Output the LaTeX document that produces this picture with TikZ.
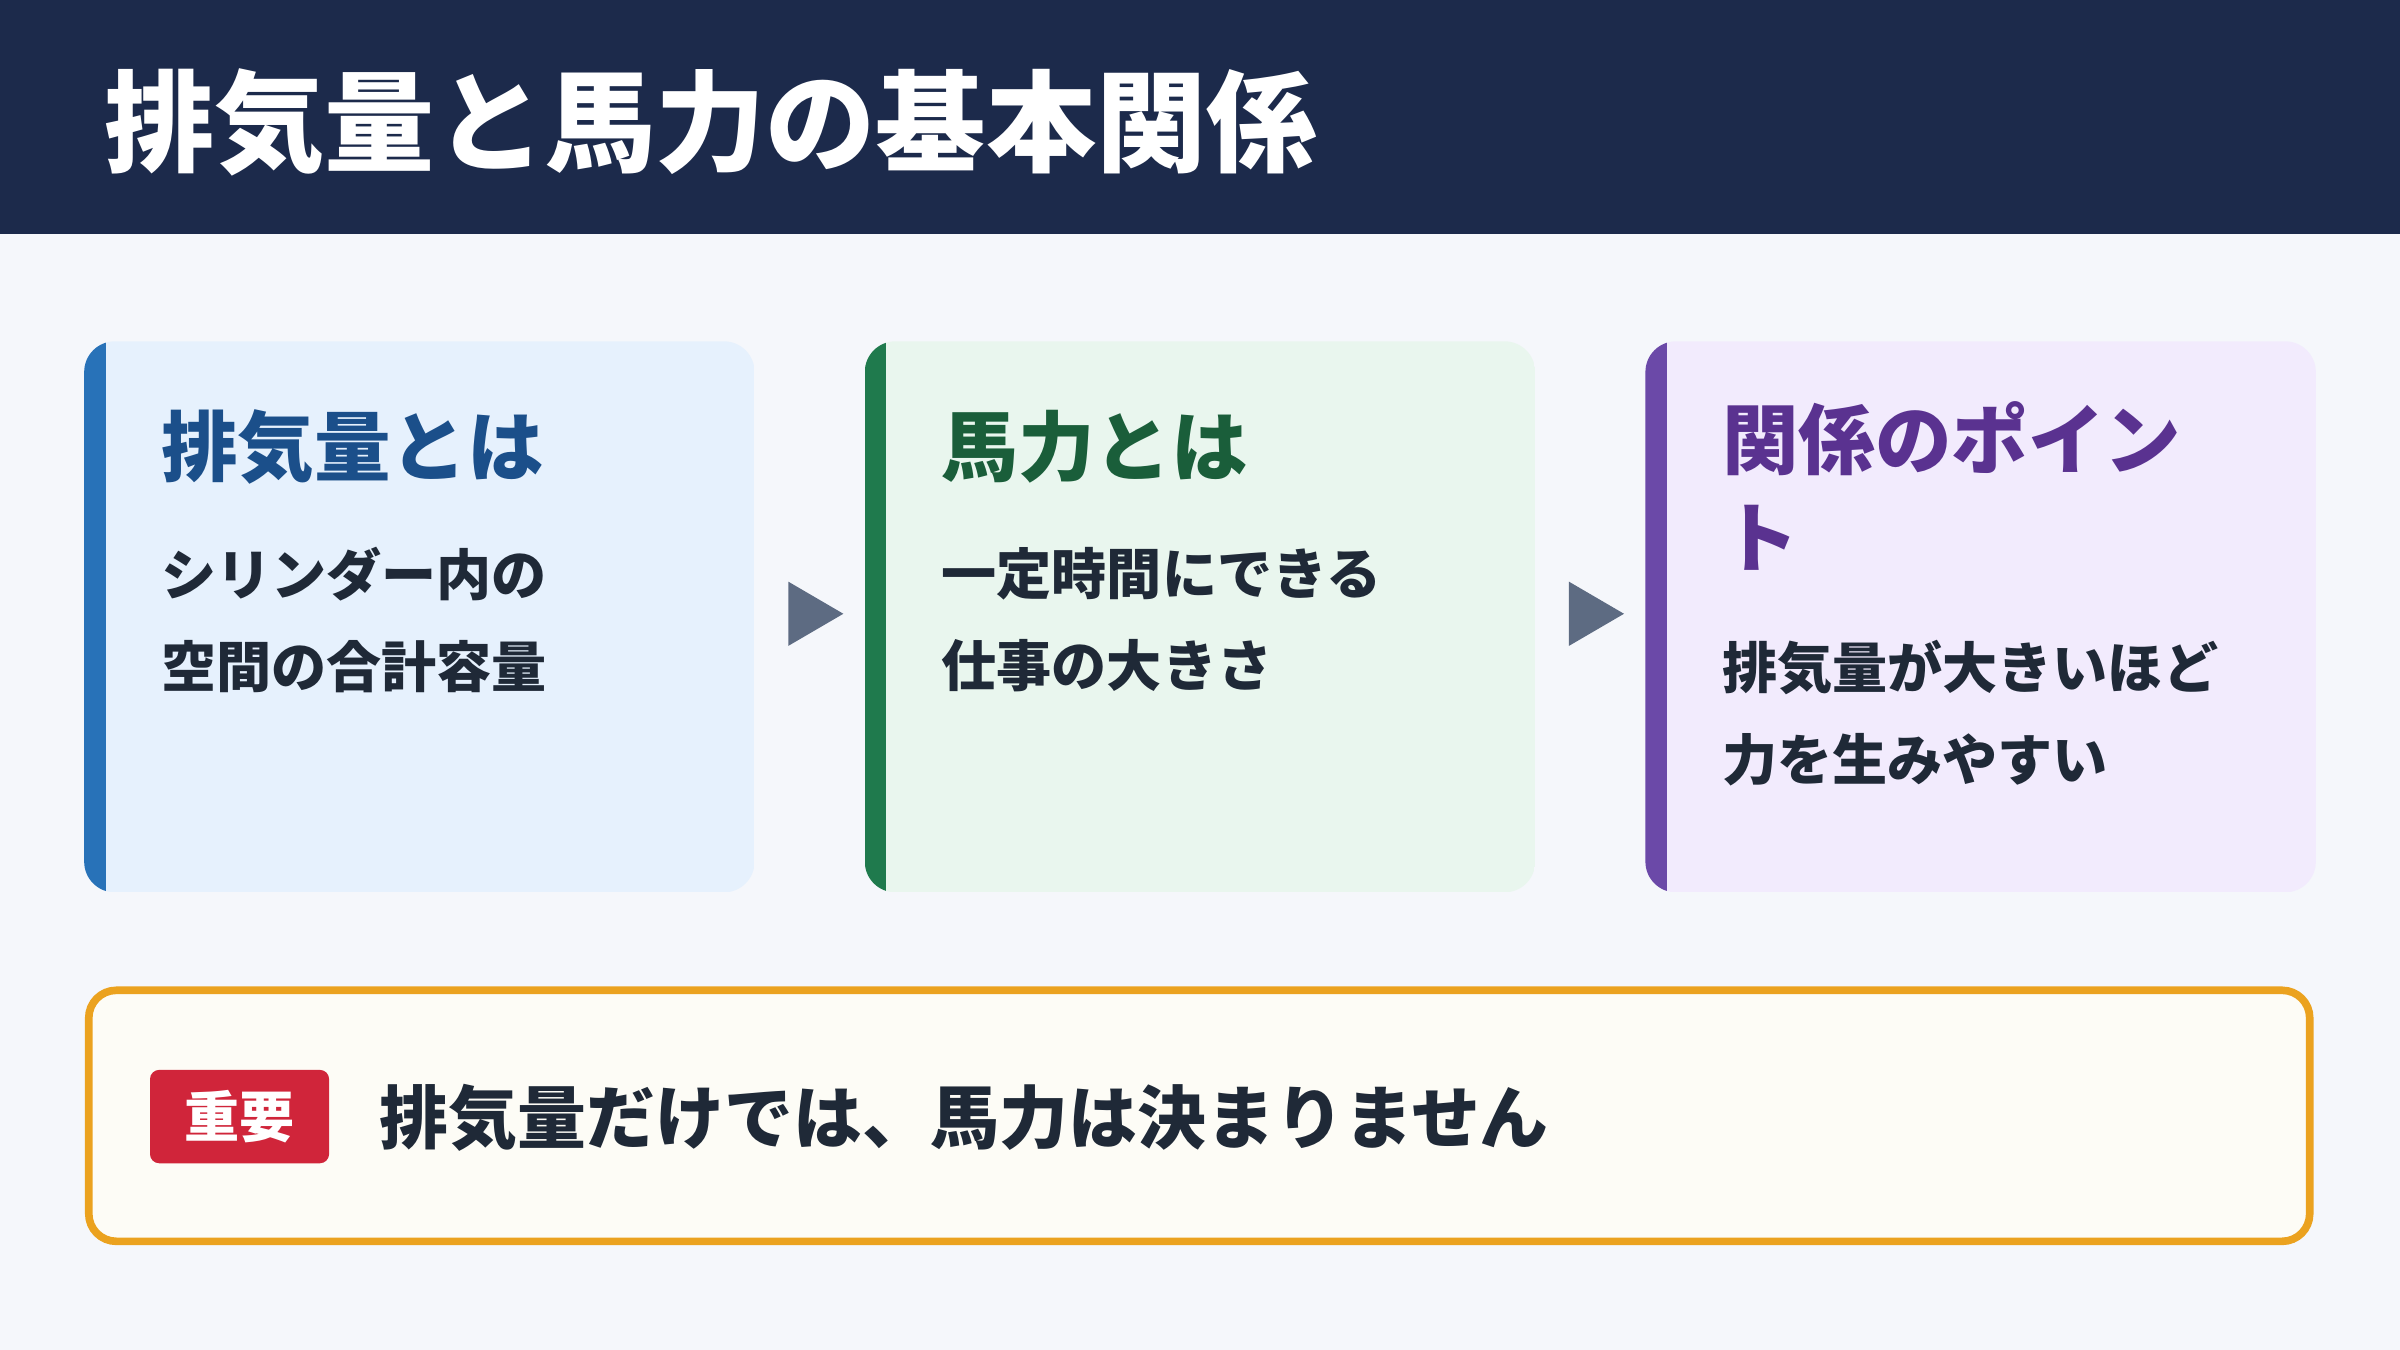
\documentclass[tikz,border=0pt]{standalone}
\usepackage{fontspec}
\setmainfont{Noto Sans CJK JP}
\definecolor{navy}{HTML}{1C2A4B}
\definecolor{bg}{HTML}{F5F7FB}
\definecolor{fa}{HTML}{E6F1FD}\definecolor{ba}{HTML}{2872B8}\definecolor{ta}{HTML}{1B4F8A}
\definecolor{fb}{HTML}{E9F6EE}\definecolor{bb}{HTML}{1F7A4D}\definecolor{tb}{HTML}{1A5E3A}
\definecolor{fc}{HTML}{F2EBFD}\definecolor{bc}{HTML}{6B49A8}\definecolor{tc}{HTML}{5A3290}
\definecolor{txt}{HTML}{1F2937}\definecolor{arr}{HTML}{5D6B82}
\definecolor{org}{HTML}{EBA21F}\definecolor{fo}{HTML}{FDFCF6}\definecolor{red}{HTML}{D0253A}
\begin{document}
\begin{tikzpicture}[x=1pt,y=-1pt,
 ttl/.style={anchor=west,font=\fontsize{50}{64}\selectfont\bfseries,align=left,inner sep=0},
 body/.style={anchor=west,font=\fontsize{36}{60}\selectfont\bfseries,text=txt,align=left,inner sep=0},
 tri/.style={fill=arr}]
\fill[bg] (0,0) rectangle (1568,882);
\fill[navy] (0,0) rectangle (1568,153);
\node[anchor=west,text=white,font=\fontsize{72}{80}\selectfont\bfseries,inner sep=0] (title) at (68,80) {排気量と馬力の基本関係};
% cards
\foreach \x/\f/\b in {55/fa/ba,565/fb/bb,1075/fc/bc}{
 \begin{scope}
 \clip[rounded corners=20] (\x,223) rectangle (\x+438,583);
 \fill[\f] (\x,223) rectangle (\x+438,583);
 \fill[\b] (\x,223) rectangle (\x+14,583);
 \end{scope}}
\node[ttl,text=ta] (t1) at (105,292) {排気量とは};
\node[body] (b1) at (105,405) {シリンダー内の\\空間の合計容量};
\node[ttl,text=tb] (t2) at (615,292) {馬力とは};
\node[body] (b2) at (615,405) {一定時間にできる\\仕事の大きさ};
\node[ttl,text=tc,anchor=north west] (t3) at (1125,262) {関係のポイン\\ト};
\node[body] (b3) at (1125,466) {排気量が大きいほど\\力を生みやすい};
\fill[tri] (515,380) -- (551,401) -- (515,422) -- cycle;
\fill[tri] (1025,380) -- (1061,401) -- (1025,422) -- cycle;
% bottom
\draw[org,line width=5,fill=fo,rounded corners=18] (58,647) rectangle (1509,811);
\node[fill=red,rounded corners=6,minimum width=117,minimum height=61,inner sep=0,text=white,font=\fontsize{36}{40}\selectfont\bfseries] (badge) at (156.5,729.5) {重要};
\node[anchor=west,inner sep=0,text=txt,font=\fontsize{45}{50}\selectfont\bfseries] (msg) at (248,730) {排気量だけでは、馬力は決まりません};
\end{tikzpicture}
\end{document}
